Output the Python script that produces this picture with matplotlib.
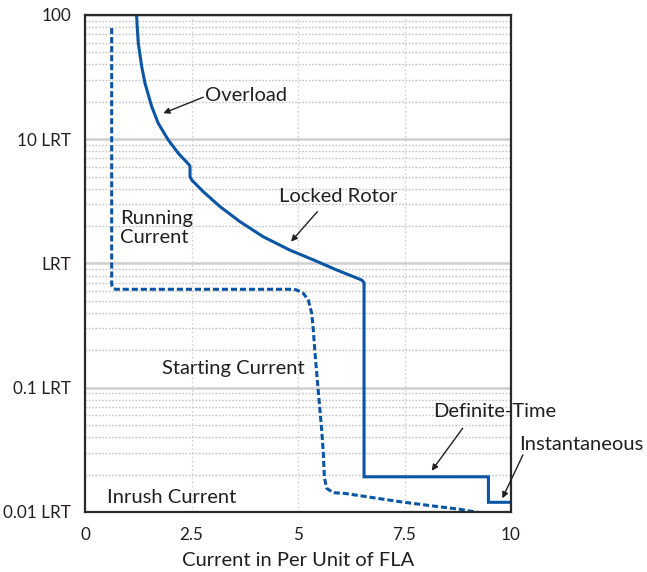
import matplotlib.pyplot as plt
from matplotlib.ticker import FixedLocator, LogLocator, NullFormatter

plt.rcParams['font.family'] = ['Lato', 'DejaVu Sans']

# Overload + locked rotor + definite time + instantaneous (solid)
trip_x = [1.21, 1.225, 1.251, 1.331, 1.408, 1.566, 1.721, 1.955, 2.19, 2.448, 2.465,
          2.465, 2.505, 2.777, 3.169, 3.638, 4.185, 4.812, 5.359, 5.908, 6.495, 6.55,
          6.55, 9.47, 9.47, 9.96]
trip_y = [100, 80, 59.2, 38.4, 28.2, 18.3, 13.4, 9.86, 7.71, 6.21, 6.0,
          5.0, 4.70, 3.78, 2.87, 2.17, 1.64, 1.28, 1.07, 0.887, 0.736, 0.70,
          0.0192, 0.0192, 0.01197, 0.01197]

# Running, starting, inrush current (dotted)
motor_x = [0.626, 0.626, 0.635, 0.66, 0.72, 4.89, 4.97, 5.124, 5.242, 5.322, 5.359, 5.399,
           5.453, 5.50, 5.556, 5.594, 5.617, 5.674, 5.829, 6.103, 6.61, 7.394, 8.176, 8.803, 9.27]
motor_y = [78.5, 0.70, 0.655, 0.63, 0.62, 0.62, 0.612, 0.575, 0.508, 0.397, 0.292, 0.1905,
           0.1155, 0.0754, 0.0457, 0.0299, 0.0192, 0.0155, 0.0143, 0.0141, 0.01328, 0.0121,
           0.01117, 0.01051, 0.00987]

x_ticks = [0, 2.5, 5, 7.5, 10]
x_labels = ['0', '2.5', '5', '7.5', '10']
y_ticks = [0.01, 0.1, 1, 10, 100]
y_labels = ['0.01 LRT', '0.1 LRT', 'LRT', '10 LRT', '100']

blue = '#0a56a4'
ink = '#231f20'

fig = plt.figure(figsize=(6.47, 5.72), dpi=100)
ax = fig.add_axes([0.1314, 0.1049, 0.6584, 0.8689])
ax.set_yscale('log')
ax.set_xlim(0, 10)
ax.set_ylim(0.01, 100)

ax.yaxis.set_minor_locator(LogLocator(base=10, subs=range(2, 10)))
ax.yaxis.set_minor_formatter(NullFormatter())
ax.grid(which='minor', axis='y', color='#c4c4c4', lw=1.0, ls=(0, (1.2, 1.2)))
ax.grid(which='major', axis='y', color='#cfcfcf', lw=1.8, ls='-')
ax.xaxis.set_major_locator(FixedLocator(x_ticks))
for xv in x_ticks[1:-1]:
    ax.axvline(xv, color='#d2d2d2', lw=1.0, ls=(0, (1.2, 1.8)), zorder=0.5)
ax.set_axisbelow(True)

ax.plot(motor_x, motor_y, color=blue, lw=2.2, ls=(0, (2.0, 0.95)))
ax.plot(trip_x, trip_y, color=blue, lw=2.2, solid_joinstyle='miter')

ax.set_xticks(x_ticks)
ax.set_xticklabels(x_labels)
ax.set_yticks(y_ticks)
ax.set_yticklabels(y_labels)
ax.tick_params(which='both', length=0, labelsize=12.3, colors=ink, pad=10)
ax.tick_params(axis='x', pad=11)
fig.text(0.4606, 1 - 560 / 572, 'Current in Per Unit of FLA', fontsize=14.5, color=ink,
         ha='center', va='center')

for s in ax.spines.values():
    s.set_linewidth(1.6)
    s.set_color('#2a2a2a')

arrow = dict(arrowstyle='-|>', color=ink, lw=1.0, mutation_scale=9, shrinkA=0, shrinkB=0)
tk = dict(fontsize=14.5, color=ink)
ax.annotate('', xy=(1.838, 16.2), xytext=(2.777, 21.8), arrowprops=arrow)
ax.text(2.817, 22.7, 'Overload', va='center', ha='left', **tk)
ax.annotate('', xy=(4.836, 1.50), xytext=(5.453, 2.61), arrowprops=arrow)
ax.text(4.554, 3.43, 'Locked Rotor', va='center', ha='left', **tk)
ax.annotate('', xy=(8.138, 0.0215), xytext=(8.866, 0.0472), arrowprops=arrow)
ax.text(8.17, 0.0638, 'Definite-Time', va='center', ha='left', **tk)
ax.annotate('', xy=(9.796, 0.01288), xytext=(10.28, 0.0288), arrowprops=arrow,
            annotation_clip=False)
ax.text(10.19, 0.0352, 'Instantaneous', va='center', ha='left', clip_on=False, **tk)
ax.text(0.82, 1.93, 'Running\nCurrent', va='center', ha='left', linespacing=1.2, **tk)
ax.text(1.81, 0.1416, 'Starting Current', va='center', ha='left', **tk)
ax.text(0.516, 0.01297, 'Inrush Current', va='center', ha='left', **tk)

fig.savefig('out.png', dpi=100)
